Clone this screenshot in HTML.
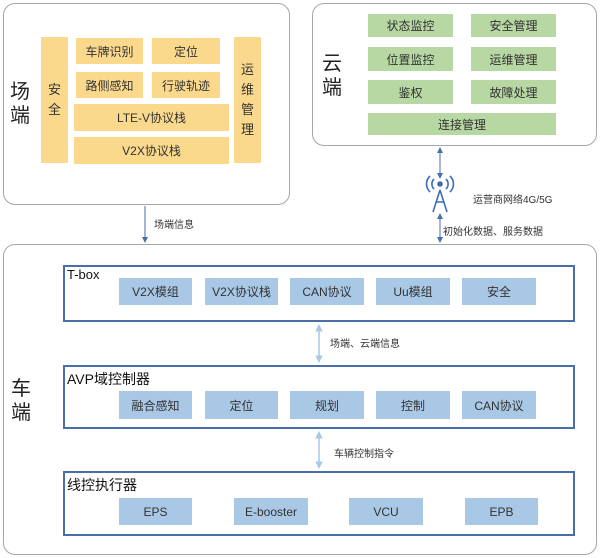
<!DOCTYPE html><html><head><meta charset="utf-8"><style>
body{margin:0;width:600px;height:558px;background:#fff;position:relative;font-family:"Liberation Sans","Noto Sans CJK SC",sans-serif;overflow:hidden}
div{position:absolute;box-sizing:border-box}
.r{border:1.5px solid #a6a6a6;border-radius:12px;background:#fff}
.y{background:#fad98c;display:flex;align-items:center;justify-content:center;font-size:12px;color:#333}
.v{background:#fad98c;font-size:13px;color:#333;text-align:center;line-height:20px;display:flex;align-items:center;justify-content:center}
.g{background:#b7d7a3;display:flex;align-items:center;justify-content:center;font-size:12px;color:#333}
.b{background:#a9c8e6;display:flex;align-items:center;justify-content:center;font-size:12px;color:#333}
.f{border:2px solid #4a6fa8;background:#fff}
.t{font-size:13px;color:#111}
.l{font-size:10px;color:#333;white-space:nowrap}
.big{font-size:20px;color:#222;line-height:24px;width:24px;text-align:center}
</style></head><body>
<div class="r" style="left:3px;top:3px;width:287px;height:202px"></div>
<div class="big" style="left:8px;top:80px">场<br>端</div>
<div class="v" style="left:41px;top:37px;width:27px;height:126px">安<br>全</div>
<div class="y" style="left:76px;top:38px;width:67px;height:26px">车牌识别</div>
<div class="y" style="left:152px;top:38px;width:68px;height:26px">定位</div>
<div class="y" style="left:76px;top:72px;width:67px;height:26px">路侧感知</div>
<div class="y" style="left:152px;top:72px;width:68px;height:26px">行驶轨迹</div>
<div class="y" style="left:74px;top:104px;width:155px;height:27px">LTE-V协议栈</div>
<div class="y" style="left:74px;top:137px;width:155px;height:27px">V2X协议栈</div>
<div class="v" style="left:234px;top:37px;width:27px;height:126px">运<br>维<br>管<br>理</div>

<div class="r" style="left:312px;top:3px;width:285px;height:143px"></div>
<div class="big" style="left:320px;top:52px">云<br>端</div>
<div class="g" style="left:368px;top:14px;width:85px;height:23px">状态监控</div>
<div class="g" style="left:471px;top:14px;width:85px;height:23px">安全管理</div>
<div class="g" style="left:368px;top:47px;width:85px;height:24px">位置监控</div>
<div class="g" style="left:471px;top:47px;width:85px;height:24px">运维管理</div>
<div class="g" style="left:368px;top:80px;width:85px;height:24px">鉴权</div>
<div class="g" style="left:471px;top:80px;width:85px;height:24px">故障处理</div>
<div class="g" style="left:368px;top:113px;width:188px;height:22px">连接管理</div>

<div class="l" style="left:154px;top:216px">场端信息</div>
<div class="l" style="left:473px;top:191px">运营商网络4G/5G</div>
<div class="l" style="left:443px;top:223px">初始化数据、服务数据</div>

<div class="r" style="left:3px;top:244px;width:594px;height:311px"></div>
<div class="big" style="left:9px;top:377px">车<br>端</div>
<div class="f" style="left:63px;top:265px;width:512px;height:57px"></div>
<div class="t" style="left:67px;top:267px">T-box</div>
<div class="b" style="left:119px;top:278px;width:73px;height:27px">V2X模组</div>
<div class="b" style="left:205px;top:278px;width:73px;height:27px">V2X协议栈</div>
<div class="b" style="left:290px;top:278px;width:74px;height:27px">CAN协议</div>
<div class="b" style="left:376px;top:278px;width:74px;height:27px">Uu模组</div>
<div class="b" style="left:462px;top:278px;width:74px;height:27px">安全</div>
<div class="l" style="left:330px;top:335px">场端、云端信息</div>
<div class="f" style="left:63px;top:365px;width:512px;height:64px"></div>
<div class="t" style="left:67px;top:369px;font-size:14px">AVP域控制器</div>
<div class="b" style="left:119px;top:391px;width:73px;height:28px">融合感知</div>
<div class="b" style="left:205px;top:391px;width:73px;height:28px">定位</div>
<div class="b" style="left:290px;top:391px;width:74px;height:28px">规划</div>
<div class="b" style="left:376px;top:391px;width:74px;height:28px">控制</div>
<div class="b" style="left:462px;top:391px;width:74px;height:28px">CAN协议</div>
<div class="l" style="left:334px;top:445px">车辆控制指令</div>
<div class="f" style="left:63px;top:471px;width:512px;height:65px"></div>
<div class="t" style="left:67px;top:475px;font-size:14px">线控执行器</div>
<div class="b" style="left:119px;top:498px;width:73px;height:27px">EPS</div>
<div class="b" style="left:234px;top:498px;width:74px;height:27px">E-booster</div>
<div class="b" style="left:349px;top:498px;width:74px;height:27px">VCU</div>
<div class="b" style="left:465px;top:498px;width:73px;height:27px">EPB</div>

<svg style="position:absolute;left:0;top:0" width="600" height="558">
<defs><marker id="a" markerWidth="6" markerHeight="6" refX="3" refY="3" orient="auto-start-reverse"><path d="M0,0L6,3L0,6z" fill="#4a6fa8"/></marker>
<marker id="c" markerWidth="5" markerHeight="5" refX="3" refY="2.5" orient="auto-start-reverse"><path d="M0,0L5,2.5L0,5z" fill="#a9c8e6"/></marker></defs>
<line x1="145" y1="206" x2="145" y2="240" stroke="#4a6fa8" marker-end="url(#a)"/>
<line x1="440" y1="150" x2="440" y2="176" stroke="#4a6fa8" marker-start="url(#a)" marker-end="url(#a)"/>
<line x1="440" y1="216" x2="440" y2="240" stroke="#4a6fa8" marker-start="url(#a)" marker-end="url(#a)"/>
<g stroke="#3d6cb3" fill="none" stroke-width="1.6">
<path d="M440,190L433,212M440,190L447,212M436,202L444,202"/>
<circle cx="440" cy="184" r="2" fill="#3d6cb3"/>
<path d="M434,179a7,7 0 0 0 0,10M446,179a7,7 0 0 1 0,10M430,176a11,11 0 0 0 0,16M450,176a11,11 0 0 1 0,16"/>
</g>
<line x1="319" y1="327" x2="319" y2="360" stroke="#a9c8e6" stroke-width="1.5" marker-start="url(#c)" marker-end="url(#c)"/>
<line x1="319" y1="434" x2="319" y2="466" stroke="#a9c8e6" stroke-width="1.5" marker-start="url(#c)" marker-end="url(#c)"/>
</svg>
</body></html>
